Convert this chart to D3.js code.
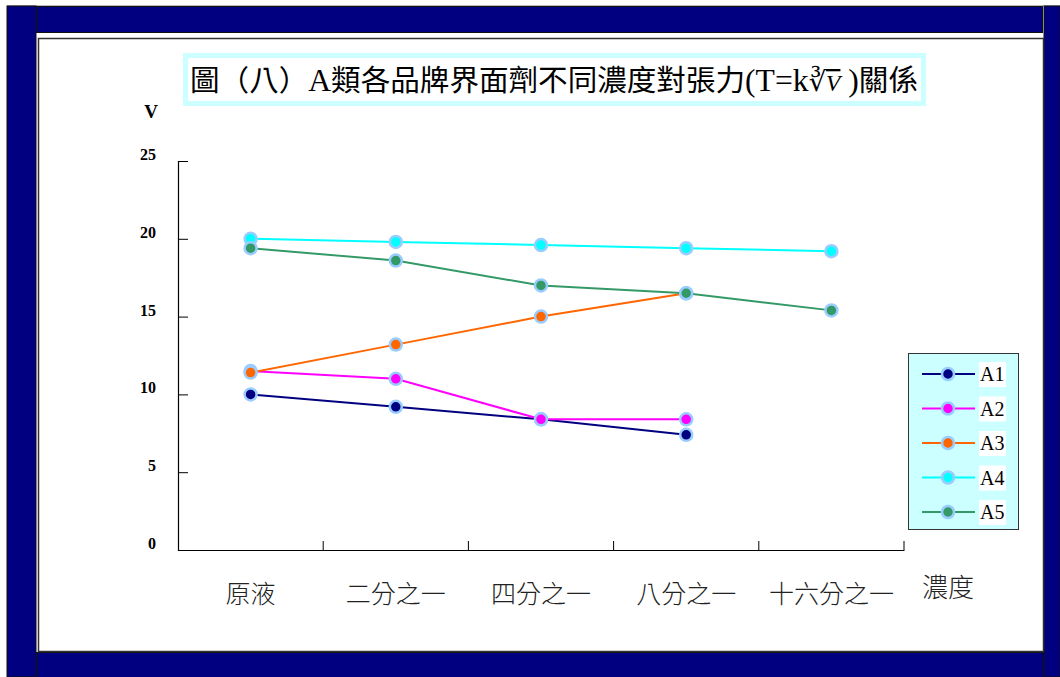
<!DOCTYPE html>
<html>
<head>
<meta charset="utf-8">
<script src="https://cdn.jsdelivr.net/npm/d3@7/dist/d3.min.js"></script>
<style>
  html, body { margin: 0; padding: 0; background: #fff; }
  svg { display: block; }
</style>
</head>
<body>
<svg id="chart" width="1060" height="677"></svg>
<script>
// Concentration levels along the x axis
const categories = ["原液", "二分之一", "四分之一", "八分之一", "十六分之一"];
// Tension values per brand (null = not measured)
const seriesNames = ["A1", "A2", "A3", "A4", "A5"];
const A1 = [10.0, 9.2, 8.4, 7.4, null];
const A2 = [11.5, 11.0, 8.4, 8.4, null];
const A3 = [11.4, 13.2, 15.0, 16.5, null];
const A4 = [20.0, 19.8, 19.6, 19.4, 19.2];
const A5 = [19.4, 18.6, 17.0, 16.5, 15.4];
const seriesValues = [A1, A2, A3, A4, A5];
const seriesColors = ["#000080", "#ff00ff", "#ff6600", "#00ffff", "#339966"];
const yTicks = [0, 5, 10, 15, 20, 25];

const svg = d3.select("#chart");

// ---- page frame ----
const navy = "#000080";
svg.append("rect").attr("x", 7).attr("y", 5).attr("width", 1053).attr("height", 1).attr("fill", "#bbb");
svg.append("rect").attr("x", 7).attr("y", 6).attr("width", 29).attr("height", 671).attr("fill", navy)
  .attr("stroke", "#111").attr("stroke-width", 1);
svg.append("rect").attr("x", 36.5).attr("y", 6.5).attr("width", 1006).attr("height", 26).attr("fill", navy)
  .attr("stroke", "#111").attr("stroke-width", 1);
svg.append("rect").attr("x", 1044).attr("y", 6).attr("width", 16).attr("height", 671).attr("fill", navy)
  .attr("stroke", "#111").attr("stroke-width", 1);
svg.append("rect").attr("x", 36.5).attr("y", 652.5).attr("width", 1007).attr("height", 25).attr("fill", navy)
  .attr("stroke", "#111").attr("stroke-width", 1);
// inner white panel
svg.append("rect").attr("x", 38.5).attr("y", 38.5).attr("width", 1005).attr("height", 613).attr("fill", "#fff")
  .attr("stroke", "#333").attr("stroke-width", 1.5);

// ---- scales ----
const plotLeft = 178, plotRight = 904, plotTop = 161, plotBottom = 550;
const x = d3.scaleBand().domain(categories).range([plotLeft, plotRight]);
const y = d3.scaleLinear().domain([0, 25]).range([plotBottom, plotTop]);
const cx = c => x(c) + x.bandwidth() / 2;

// ---- title ----
const title = svg.append("g");
title.append("rect").attr("x", 185.5).attr("y", 55.5).attr("width", 738).attr("height", 48)
  .attr("fill", "#fff").attr("stroke", "#ccffff").attr("stroke-width", 5);
const tt = title.append("text").attr("x", 190).attr("y", 91)
  .attr("textLength", 728).attr("lengthAdjust", "spacingAndGlyphs")
  .attr("font-family", "'Noto Sans CJK TC', 'Noto Sans CJK SC', sans-serif")
  .attr("font-size", 29).attr("fill", "#000");
tt.append("tspan").text("圖（八）");
tt.append("tspan").attr("font-family", "'Liberation Serif', serif").attr("font-size", 31).text("A");
tt.append("tspan").text("類各品牌界面劑不同濃度對張力");
tt.append("tspan").attr("font-family", "'Liberation Serif', serif").attr("font-size", 31).text("(T=k");
tt.append("tspan").attr("font-family", "'DejaVu Serif', serif").attr("font-size", 27).text("∛");
tt.append("tspan").attr("font-family", "'Liberation Serif', serif").attr("font-style", "italic")
  .attr("font-size", 23).attr("text-decoration", "overline").text("V");
tt.append("tspan").attr("font-family", "'Liberation Serif', serif").attr("font-size", 31).text(" )");
tt.append("tspan").text("關係");

// ---- axes ----
const axisFont = "'Liberation Serif', 'DejaVu Serif', serif";
const yAxis = svg.append("g").attr("transform", `translate(${plotLeft},0)`)
  .call(d3.axisRight(y).tickValues(yTicks).tickSize(10).tickFormat(""));
yAxis.select(".domain").attr("stroke", "#000").attr("stroke-width", 1.2);
yAxis.selectAll(".tick line").attr("stroke", "#000");
svg.append("g").selectAll("text").data(yTicks).join("text")
  .attr("x", 156).attr("y", d => y(d) - 1)
  .attr("text-anchor", "end")
  .attr("font-family", axisFont).attr("font-weight", "bold").attr("font-size", 16)
  .text(d => d);
svg.append("text").attr("x", 151).attr("y", 118).attr("text-anchor", "middle")
  .attr("font-family", axisFont).attr("font-weight", "bold").attr("font-size", 19).text("V");

const xAxis = svg.append("g").attr("transform", `translate(0,${plotBottom})`)
  .call(d3.axisTop(x).tickValues([]).tickSizeOuter(0));
xAxis.select(".domain").attr("stroke", "#000").attr("stroke-width", 1.2);
// boundary ticks between categories
const bounds = categories.map(c => x(c) + x.bandwidth());
svg.append("g").selectAll("line").data(bounds).join("line")
  .attr("x1", d => d).attr("x2", d => d)
  .attr("y1", plotBottom).attr("y2", plotBottom - 9)
  .attr("stroke", "#000").attr("stroke-width", 1);
svg.append("g").selectAll("text").data(categories).join("text")
  .attr("x", d => cx(d)).attr("y", 603).attr("text-anchor", "middle")
  .attr("font-family", "'Noto Sans CJK TC', sans-serif").attr("font-size", 25).attr("font-weight", 300)
  .attr("fill", "#222")
  .text(d => d);
svg.append("text").attr("x", 948).attr("y", 597).attr("text-anchor", "middle")
  .attr("font-family", "'Noto Sans CJK TC', sans-serif").attr("font-size", 26).attr("font-weight", 300)
  .attr("fill", "#222")
  .text("濃度");

// ---- series ----
const line = d3.line().defined(d => d.v != null).x(d => cx(d.c)).y(d => y(d.v));
seriesValues.forEach((vals, i) => {
  const pts = vals.map((v, j) => ({ c: categories[j], v }));
  const g = svg.append("g");
  g.append("path").datum(pts).attr("d", line).attr("fill", "none")
    .attr("stroke", seriesColors[i]).attr("stroke-width", 2);
  g.selectAll("circle").data(pts.filter(d => d.v != null)).join("circle")
    .attr("cx", d => cx(d.c)).attr("cy", d => y(d.v)).attr("r", 6)
    .attr("fill", seriesColors[i]).attr("stroke", "#99ccff").attr("stroke-width", 2.5);
});

// ---- legend ----
const lg = svg.append("g");
lg.append("rect").attr("x", 908.5).attr("y", 353.5).attr("width", 110).attr("height", 176)
  .attr("fill", "#ccffff").attr("stroke", "#333").attr("stroke-width", 1);
seriesNames.forEach((name, i) => {
  const ly = 374 + i * 34.5;
  lg.append("line").attr("x1", 922).attr("x2", 975).attr("y1", ly).attr("y2", ly)
    .attr("stroke", seriesColors[i]).attr("stroke-width", 2);
  lg.append("circle").attr("cx", 948).attr("cy", ly).attr("r", 6)
    .attr("fill", seriesColors[i]).attr("stroke", "#99ccff").attr("stroke-width", 2.5);
  lg.append("rect").attr("x", 979).attr("y", ly - 12).attr("width", 27).attr("height", 25).attr("fill", "#fff");
  lg.append("text").attr("x", 980).attr("y", ly + 7)
    .attr("font-family", axisFont).attr("font-size", 20).text(name);
});
</script>
</body>
</html>
